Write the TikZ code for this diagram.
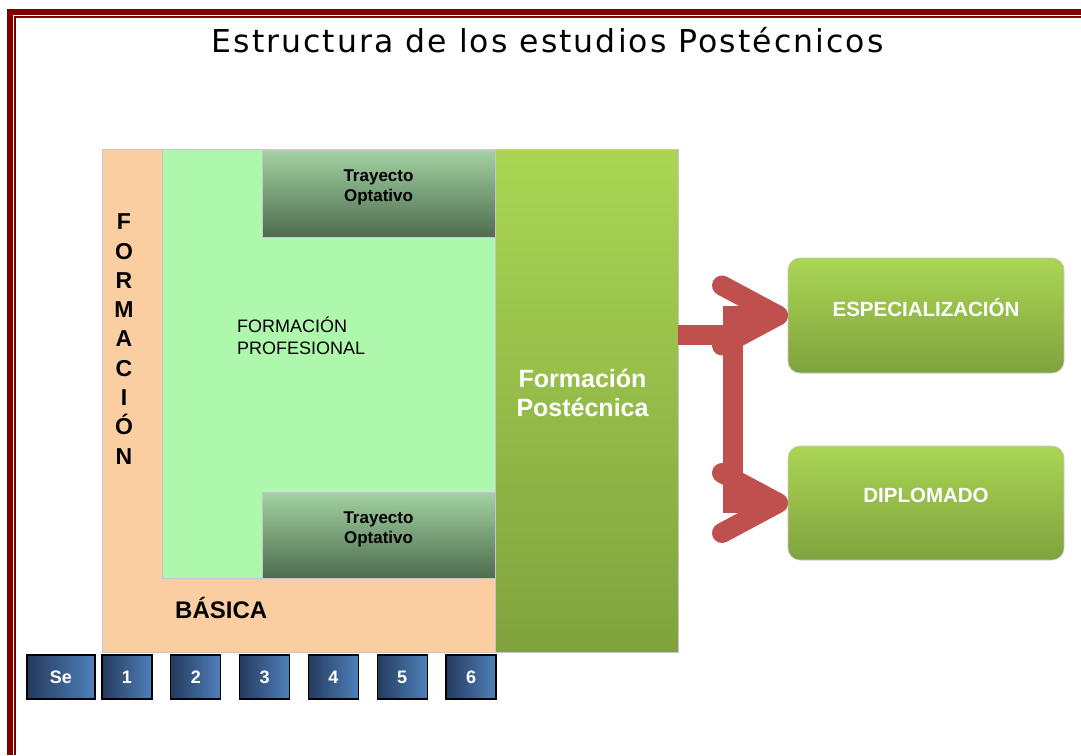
\documentclass[tikz,border=0pt]{standalone}
\usepackage{fontspec}
\setmainfont{Liberation Sans}
\newfontfamily\titlefont[LetterSpace=6.5]{DejaVu Sans}
\usetikzlibrary{arrows.meta,positioning}
\definecolor{marco}{RGB}{128,0,0}
\definecolor{durazno}{RGB}{250,206,160}
\definecolor{verdeclaro}{RGB}{174,248,174}
\definecolor{verdeop1}{RGB}{162,210,162}
\definecolor{verdeop2}{RGB}{78,108,78}
\definecolor{verdepost1}{RGB}{170,214,84}
\definecolor{verdepost2}{RGB}{128,162,62}
\definecolor{rojo}{RGB}{192,80,77}
\definecolor{azul1}{RGB}{36,58,92}
\definecolor{azul2}{RGB}{79,129,189}
\begin{document}
\begin{tikzpicture}[x=1pt, y=-1pt,
    area/.style={rectangle, inner sep=0pt, outer sep=0pt, draw=gray!45, line width=0.6pt},
    optbox/.style={area, top color=verdeop1, bottom color=verdeop2, minimum width=233, minimum height=87},
    postbox/.style={area, top color=verdepost1, bottom color=verdepost2},
    salida/.style={postbox, rounded corners=12, minimum width=276, minimum height=115},
    sem/.style={rectangle, draw=black, line width=1.2pt, left color=azul1, right color=azul2,
        minimum width=50, minimum height=44, inner sep=0pt, text=white, font=\bfseries\fontsize{18}{20}\selectfont},
    optext/.style={align=center, font=\bfseries\fontsize{17}{20}\selectfont},
    blanco/.style={align=center, text=white, font=\bfseries},
    flecha/.style={draw=rojo, line width=20pt, -{Straight Barb[length=56pt, width=60pt, round]}}]
    \useasboundingbox (0,0) rectangle (1081,755);
    \fill[marco] (7,9) rectangle (13,755);
    \fill[marco] (7,9) rectangle (1081,15);
    \fill[marco] (14,16) rectangle (16,755);
    \fill[marco] (14,16) rectangle (1081,18);
    \node[anchor=base] (titulo) at (547.5,52) {\titlefont\fontsize{31.5}{36}\selectfont Estructura de los estudios Postécnicos};
    \node[area, fill=durazno, minimum width=393, minimum height=503] (basica) at (298.5,400.5) {};
    \node[area, fill=verdeclaro, minimum width=333, minimum height=429] (profesional) at (328.5,363.5) {};
    \node[optbox] (optsup) at (378.5,193.5) {};
    \node[optbox, minimum height=86] (optinf) at (378.5,535) {};
    \node[postbox, minimum width=183, minimum height=503] (post) at (586.5,400.5) {};
    \node[salida] (esp) at (926,315.5) {};
    \node[salida, minimum height=114] (dip) at (926,503) {};
    \node[align=center, font=\bfseries\fontsize{23}{29.3}\selectfont] (fbasica) at (124,339) {F\\O\\R\\M\\A\\C\\I\\Ó\\N};
    \node[anchor=base west, inner sep=0pt, font=\bfseries\fontsize{24}{28}\selectfont] (tbasica) at (175,618) {BÁSICA};
    \node[anchor=north west, inner sep=0pt, align=left, font=\fontsize{18}{22}\selectfont] (tprof) at (237,317) {FORMACIÓN\\PROFESIONAL};
    \node[optext] (topsup) at ([yshift=6]optsup.center) {Trayecto\\Optativo};
    \node[optext] (topinf) at ([yshift=6]optinf.center) {Trayecto\\Optativo};
    \node[blanco, font=\bfseries\fontsize{25}{29}\selectfont] (tpost) at ([xshift=-4, yshift=8]post.center) {Formación\\Postécnica};
    \node[blanco, font=\bfseries\fontsize{20.5}{24}\selectfont] (tesp) at ([yshift=8]esp.center) {ESPECIALIZACIÓN};
    \node[blanco, font=\bfseries\fontsize{20.5}{24}\selectfont] (tdip) at ([yshift=8]dip.center) {DIPLOMADO};
    \node[sem, minimum width=68] (s0) at (61,677) {Se};
    \foreach \i in {1,...,6}
        \node[sem] (s\i) at ({127+(\i-1)*68.8},677) {\i};
    \coordinate (cruce) at (733,335);
    \draw[flecha] (post.east |- cruce) -- (cruce) |- (esp.west);
    \draw[flecha] (cruce) |- (dip.west);
\end{tikzpicture}
\end{document}
